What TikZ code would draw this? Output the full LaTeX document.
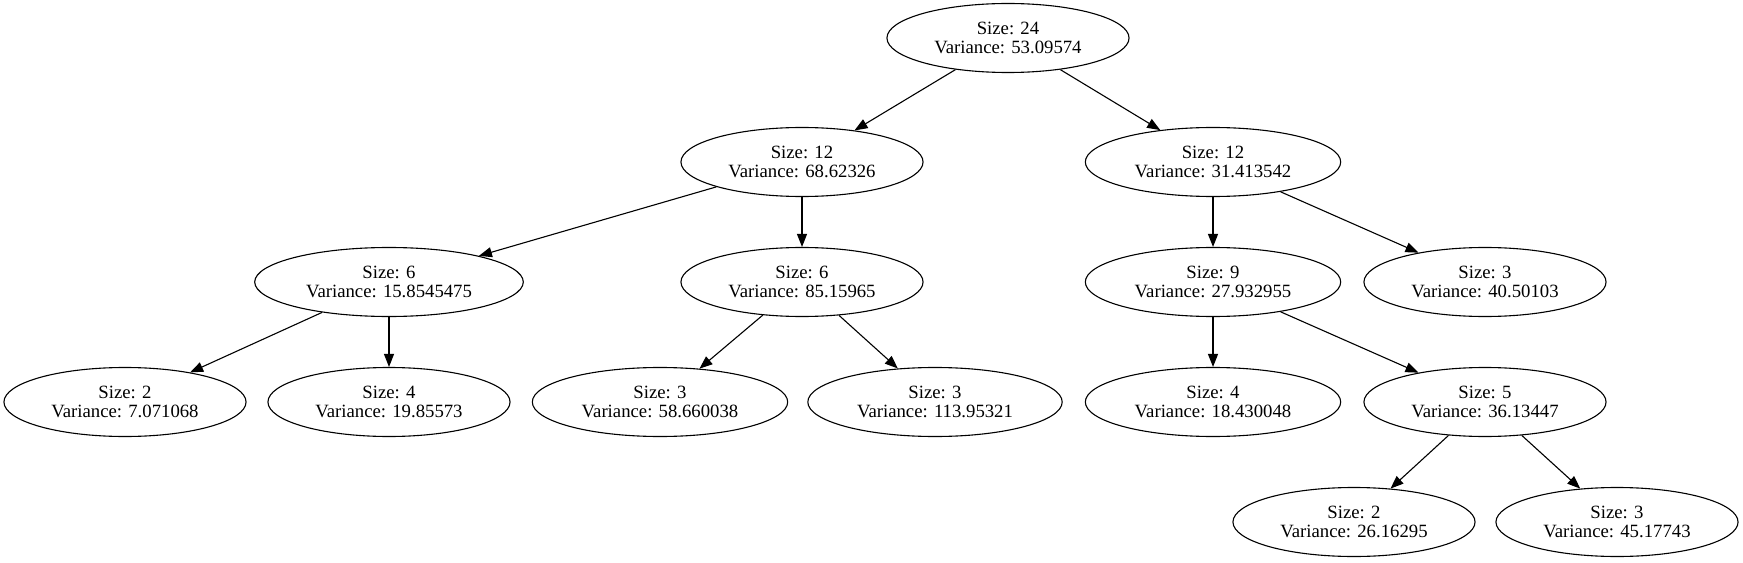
\documentclass[tikz,border=0pt]{standalone}
\usepackage{fontspec}
\setmainfont{Liberation Serif}
\usetikzlibrary{shapes.geometric,arrows.meta}

\begin{document}
\begin{tikzpicture}[x=1bp,y=-1bp,
    split/.style={draw,ellipse,line width=1.1bp,align=center,
      inner xsep=12bp,inner ysep=3bp,minimum height=69bp,
      font=\fontsize{18.8}{19}\selectfont},
    edge/.style={line width=1.1bp,-{Triangle[length=13bp,width=10bp]}}]
    \useasboundingbox (0,0) rectangle (1743,563);
    \node[split] (root) at (1008,38) {Size: 24\\Variance: 53.09574};
    \node[split] (l) at (802,162) {Size: 12\\Variance: 68.62326};
    \node[split] (r) at (1213,162) {Size: 12\\Variance: 31.413542};
    \node[split] (ll) at (389,282) {Size: 6\\Variance: 15.8545475};
    \node[split] (lr) at (802,282) {Size: 6\\Variance: 85.15965};
    \node[split] (rl) at (1213,282) {Size: 9\\Variance: 27.932955};
    \node[split] (rr) at (1485,282) {Size: 3\\Variance: 40.50103};
    \node[split] (lll) at (125,402) {Size: 2\\Variance: 7.071068};
    \node[split] (llr) at (389,402) {Size: 4\\Variance: 19.85573};
    \node[split] (lrl) at (660,402) {Size: 3\\Variance: 58.660038};
    \node[split] (lrr) at (935,402) {Size: 3\\Variance: 113.95321};
    \node[split] (rll) at (1213,402) {Size: 4\\Variance: 18.430048};
    \node[split] (rlr) at (1485,402) {Size: 5\\Variance: 36.13447};
    \node[split] (rlrl) at (1354,522) {Size: 2\\Variance: 26.16295};
    \node[split] (rlrr) at (1617,522) {Size: 3\\Variance: 45.17743};
    % edges
    \foreach \a/\b in {root/l,root/r,l/ll,l/lr,ll/lll,ll/llr,lr/lrl,lr/lrr,
                       r/rl,r/rr,rl/rll,rl/rlr,rlr/rlrl,rlr/rlrr}
      \draw[edge] (\a) -- (\b);
\end{tikzpicture}
\end{document}
